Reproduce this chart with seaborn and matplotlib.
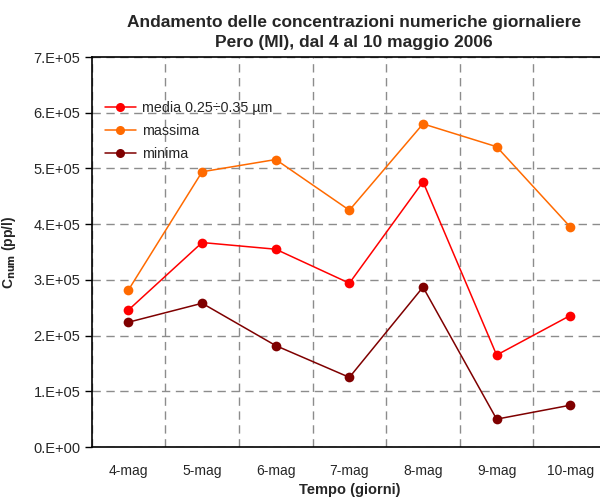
import seaborn as sns
import matplotlib.pyplot as plt
import pandas as pd

giorni = ["4-mag", "5-mag", "6-mag", "7-mag", "8-mag", "9-mag", "10-mag"]
media = [2.46e5, 3.67e5, 3.55e5, 2.94e5, 4.76e5, 1.65e5, 2.36e5]
massima = [2.82e5, 4.94e5, 5.16e5, 4.25e5, 5.80e5, 5.39e5, 3.95e5]
minima = [2.24e5, 2.58e5, 1.82e5, 1.25e5, 2.87e5, 0.50e5, 0.75e5]
serie = ["media 0.25÷0.35 µm", "massima", "minima"]
colori = ["#ff0000", "#ff6a00", "#7f0000"]
yticks = [0, 1e5, 2e5, 3e5, 4e5, 5e5, 6e5, 7e5]
ytick_labels = ["0.E+00", "1.E+05", "2.E+05", "3.E+05", "4.E+05", "5.E+05", "6.E+05", "7.E+05"]

df = pd.DataFrame({
    "giorno": giorni * 3,
    "pos": list(range(len(giorni))) * 3,
    "valore": media + massima + minima,
    "serie": [serie[0]] * 7 + [serie[1]] * 7 + [serie[2]] * 7,
})

sns.set_style("white")
plt.rcParams["font.family"] = ["Liberation Sans", "DejaVu Sans"]

fig = plt.figure(figsize=(6, 4.97), dpi=100)
ax = fig.add_axes([0.1528, 0.1006, 0.859, 0.7847])

sns.lineplot(data=df, x="pos", y="valore", hue="serie", palette=colori,
             marker="o", markersize=7, markeredgewidth=0, linewidth=1.1,
             ax=ax, legend=False)

ax.set_xlim(-0.5, 6.5)
ax.set_ylim(0, 7e5)
ax.set_yticks(yticks)
ax.set_yticklabels(ytick_labels, fontsize=10.5)
ax.set_xticks(range(len(giorni)))
ax.set_xticklabels(giorni, fontsize=10)
ax.set_xticks([i + 0.5 for i in range(-1, 7)], minor=True)
ax.tick_params(axis="x", which="major", length=0, pad=12)
ax.tick_params(axis="x", which="minor", direction="inout", length=8, width=1, color="black")
ax.tick_params(axis="y", which="major", direction="out", length=5, width=1, color="black", left=True, pad=3)

ax.grid(False)
ax.yaxis.grid(True, color="#8c8c8c", linestyle=(0, (6, 4)), linewidth=1)
ax.xaxis.grid(True, which="minor", color="#8c8c8c", linestyle=(0, (6, 4)), linewidth=1)
for s in ax.spines.values():
    s.set_color("black")
    s.set_linewidth(1.2)
    s.set_visible(True)

ax.set_xlabel("Tempo (giorni)", fontsize=10.5, fontweight="bold")
ax.xaxis.set_label_coords(0.5, -0.092)
ax.set_ylabel(r"C$_{\mathbf{num}}$ (pp/l)", fontsize=10, fontweight="bold")
ax.yaxis.set_label_coords(-0.143, 0.5)
fig.text(0.59, 0.969, "Andamento delle concentrazioni numeriche giornaliere",
         ha="center", va="top", fontsize=12.5, fontweight="bold")
fig.text(0.59, 0.929, "Pero (MI), dal 4 al 10 maggio 2006",
         ha="center", va="top", fontsize=12.5, fontweight="bold")

handles = [plt.Line2D([], [], color=c, marker="o", markersize=6.5, markeredgewidth=0, linewidth=1.1)
           for c in colori]
ax.legend(handles, serie, loc="upper left", bbox_to_anchor=(0.0, 0.92), frameon=False,
          fontsize=10.3, handlelength=2.2, handletextpad=0.4, labelspacing=0.62)

fig.savefig("out.png", dpi=100)
